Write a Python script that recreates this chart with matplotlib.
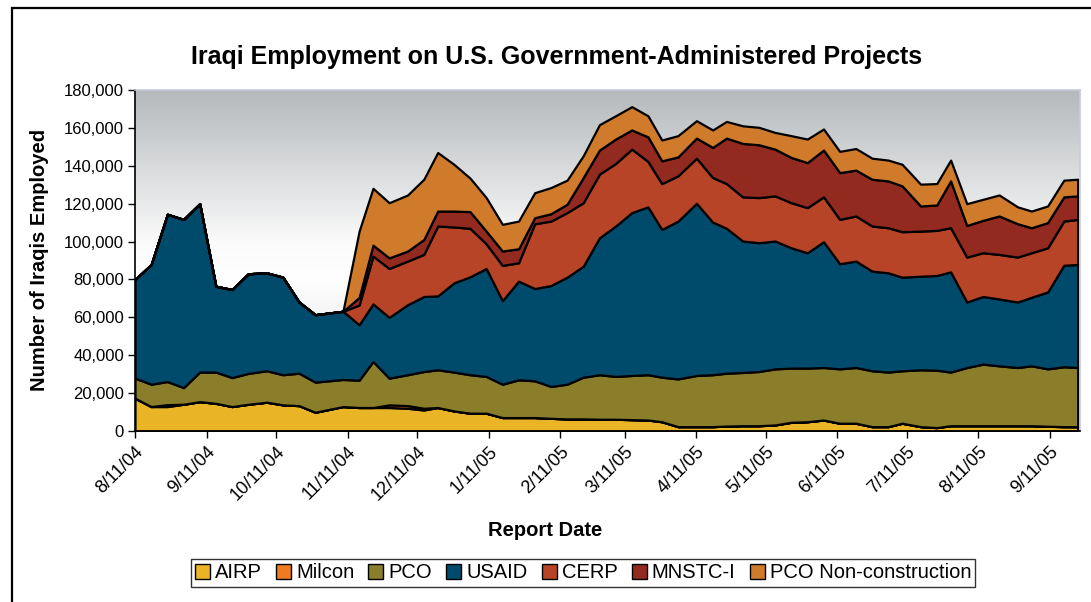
import numpy as np
import pandas as pd
import matplotlib
matplotlib.use("Agg")
import matplotlib.pyplot as plt
from matplotlib.colors import LinearSegmentedColormap
from matplotlib.patches import Rectangle

plt.rcParams['font.family'] = ['Liberation Sans', 'DejaVu Sans']

# report dates
report_dates = [
    '2004-08-11', '2004-08-18', '2004-08-25', '2004-09-01', '2004-09-08', '2004-09-15',
    '2004-09-22', '2004-09-29', '2004-10-07', '2004-10-14', '2004-10-21', '2004-10-28',
    '2004-11-09', '2004-11-16', '2004-11-22', '2004-11-29', '2004-12-07', '2004-12-14',
    '2004-12-20', '2004-12-27', '2005-01-03', '2005-01-10', '2005-01-17', '2005-01-24',
    '2005-01-31', '2005-02-07', '2005-02-14', '2005-02-21', '2005-02-28', '2005-03-07',
    '2005-03-14', '2005-03-21', '2005-03-27', '2005-04-03', '2005-04-11', '2005-04-18',
    '2005-04-24', '2005-05-01', '2005-05-08', '2005-05-15', '2005-05-22', '2005-05-29',
    '2005-06-05', '2005-06-12', '2005-06-19', '2005-06-26', '2005-07-03', '2005-07-09',
    '2005-07-17', '2005-07-24', '2005-07-30', '2005-08-06', '2005-08-13', '2005-08-20',
    '2005-08-28', '2005-09-03', '2005-09-10', '2005-09-17', '2005-09-23',
]

airp = [17300, 12900, 12900, 14100, 15500, 14600, 12900, 14100, 15200, 13800, 13400, 9900,
        12900, 12400, 12400, 12400, 12000, 11100, 12400, 10600, 9400, 9400, 7100, 7100,
        7100, 6700, 6400, 6400, 6200, 6200, 6000, 5800, 4900, 2300, 2300, 2300,
        2600, 2800, 2800, 3200, 4600, 4900, 5800, 4100, 4100, 2300, 2300, 4100,
        2300, 1800, 2800, 2800, 2800, 2800, 2800, 2800, 2500, 2300, 2300]

milcon = [0, 0, 1000, 0, 0, 0, 0, 0, 0, 0, 0, 0,
          0, 0, 0, 1400, 1400, 900, 0, 0, 0, 0, 0, 0,
          0, 0, 0, 0, 0, 0, 0, 0, 0, 0, 0, 0,
          0, 0, 0, 0, 0, 0, 0, 0, 0, 0, 0, 0,
          0, 0, 0, 0, 0, 0, 0, 0, 0, 0, 0]

pco = [10600, 11800, 12200, 8800, 15600, 16500, 15300, 16300, 16600, 15900, 17100, 15900,
       14300, 14400, 24300, 14100, 16300, 19400, 19900, 20500, 20300, 19400, 17600, 19900,
       19400, 16800, 18300, 22000, 23500, 22600, 23300, 23900, 23500, 25200, 27000, 27400,
       27900, 28100, 28600, 29600, 28600, 28300, 27700, 28700, 29400, 29500, 28800, 27700,
       30000, 30300, 28300, 30700, 32500, 31600, 30700, 31600, 30300, 31600, 31200]

usaid = [52100, 63200, 88300, 88800, 88900, 45300, 46500, 52600, 51700, 51500, 37600, 35600,
         36000, 29300, 30400, 32100, 37000, 39600, 39000, 47100, 51700, 57000, 44100, 52100,
         48700, 53300, 56500, 58600, 72300, 79400, 86000, 88600, 78000, 83300, 90900, 80600,
         76500, 69400, 68000, 67500, 63500, 60900, 66400, 55500, 56200, 52600, 52400, 49400,
         49400, 50000, 52900, 34600, 35700, 35300, 34600, 36200, 40600, 53600, 54400]

cerp = [0, 0, 0, 0, 0, 0, 0, 0, 0, 0, 0, 0,
        0, 10400, 25200, 25800, 23000, 22200, 36900, 29500, 25600, 13000, 18600, 9700,
        34200, 34000, 34100, 33500, 33600, 33000, 33500, 24000, 24200, 23900, 23800, 23500,
        23600, 23300, 23800, 23800, 23800, 23800, 23700, 23400, 23800, 23800, 23800, 24000,
        23800, 23800, 23300, 23700, 23100, 23500, 23700, 23500, 23300, 23300, 23800]

mnstc = [0, 0, 0, 0, 0, 0, 0, 0, 0, 0, 0, 0,
         0, 4000, 5800, 5600, 5300, 7900, 7900, 8400, 8800, 6700, 7600, 7400,
         3200, 3900, 4400, 13300, 12700, 12900, 10100, 13000, 12000, 10000, 10600, 15900,
         24000, 28200, 27900, 24700, 23900, 23800, 24700, 24700, 24200, 24700, 24700, 24200,
         13300, 13400, 24700, 16700, 17100, 20300, 17600, 13200, 13300, 12800, 12400]

pco_nc = [0, 0, 0, 0, 0, 0, 0, 0, 0, 0, 0, 0,
          0, 35000, 30000, 29100, 29600, 31800, 30900, 24700, 17700, 17700, 14100, 14600,
          13200, 13800, 12700, 11500, 13400, 12300, 12300, 11100, 11000, 11200, 9200, 9200,
          8800, 9300, 9200, 8800, 11500, 12400, 11100, 11200, 11400, 11100, 11000, 11400,
          11500, 11300, 11000, 11500, 11100, 11100, 8900, 8800, 8800, 8800, 8800]

series_names = ['AIRP', 'Milcon', 'PCO', 'USAID', 'CERP', 'MNSTC-I', 'PCO Non-construction']
series_colors = ['#E9B425', '#F07A22', '#8A7E2B', '#004A6C', '#B84427', '#922A1F', '#D07B2B']
month_ticks = pd.date_range('2004-08-11', '2005-09-11', freq=pd.DateOffset(months=1))

dates = pd.to_datetime(report_dates)

fig = plt.figure(figsize=(10.91, 6.02), dpi=100)
ax = fig.add_axes([135 / 1091, 1 - 431 / 602, 945 / 1091, 341 / 602])

# gradient background of plot area
cmap = LinearSegmentedColormap.from_list('bg', [(0, '#d4d6d8'), (0.45, '#ffffff'), (0.55, '#fbfbfb'), (1, '#b5b9bc')])
grad = np.linspace(0, 1, 256).reshape(-1, 1)
ax.imshow(grad, cmap=cmap, aspect='auto', extent=[0, 1, 0, 1], origin='lower',
          transform=ax.transAxes, zorder=0)

ax.stackplot(dates, airp, milcon, pco, usaid, cerp, mnstc, pco_nc,
             colors=series_colors, labels=series_names,
             edgecolor='black', linewidth=1.6, zorder=2)

ax.set_xlim(dates[0], dates[-1] + pd.Timedelta(days=1))
ax.set_ylim(0, 180000)
ax.set_yticks(np.arange(0, 180001, 20000))
ax.set_yticklabels([f'{v:,}' for v in range(0, 180001, 20000)], fontsize=12)
ax.set_xticks(month_ticks)
ax.set_xticklabels([f'{d.month}/{d.day}/{d.strftime("%y")}' for d in month_ticks],
                   rotation=45, ha='right', va='top', rotation_mode='anchor', fontsize=13)
ax.tick_params(axis='x', length=5, width=1, pad=4)
ax.tick_params(axis='y', length=5, width=1, pad=3)

for side in ['top', 'right']:
    ax.spines[side].set_color('#c6cadc')
    ax.spines[side].set_linewidth(1.2)
for side in ['left', 'bottom']:
    ax.spines[side].set_color('black')
    ax.spines[side].set_linewidth(1.2)

fig.text(557 / 1091, 1 - 57 / 602, 'Iraqi Employment on U.S. Government-Administered Projects',
         ha='center', va='center', fontsize=18, fontweight='bold')
fig.text(40 / 1091, 1 - 260 / 602, 'Number of Iraqis Employed', rotation=90,
         ha='center', va='center', fontsize=14.5, fontweight='bold')
fig.text(545 / 1091, 1 - 530 / 602, 'Report Date', ha='center', va='center',
         fontsize=14.5, fontweight='bold')

leg = fig.legend(loc='center', bbox_to_anchor=(583 / 1091, 1 - 573 / 602), ncol=7,
                 fontsize=14.5, frameon=True, fancybox=False, edgecolor='black',
                 handlelength=0.75, handleheight=0.75, handletextpad=0.25,
                 columnspacing=0.7, borderpad=0.2, borderaxespad=0)
leg.get_frame().set_linewidth(1.0)
for h in leg.legend_handles:
    h.set_edgecolor('black')
    h.set_linewidth(1.0)

# outer chart border
fig.patches.append(Rectangle((12 / 1091, -0.05), 1.1, 1.05 - 8 / 602, transform=fig.transFigure,
                             fill=False, edgecolor='black', linewidth=1.6))

fig.savefig('out.png', dpi=100)
